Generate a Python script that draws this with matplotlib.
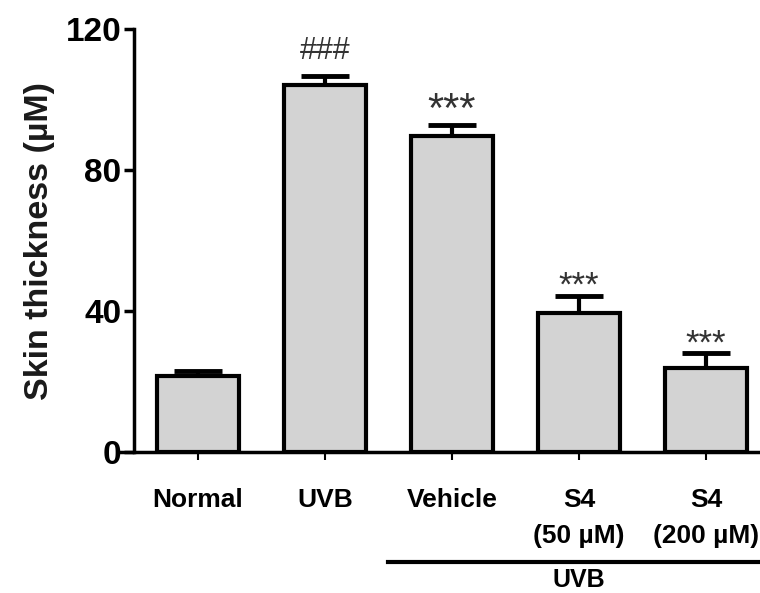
import numpy as np
import matplotlib
matplotlib.use("Agg")
import matplotlib.pyplot as plt
from matplotlib import transforms

groups = ["Normal", "UVB", "Vehicle", "S4\n(50 µM)", "S4\n(200 µM)"]
means = [21.5, 104.2, 89.7, 39.4, 23.8]
errs = [1.4, 2.6, 3.2, 4.9, 4.3]
marks = ["", "###", "***", "***", "***"]
mark_y = [0, 109.5, 91.0, 42.5, 25.8]
mark_size = [0, 22, 30, 25, 25]

plt.rcParams['font.family'] = ['Liberation Sans', 'DejaVu Sans']

def main():
    fig = plt.figure(figsize=(7.6, 5.93), dpi=100)
    ax = fig.add_axes([121 / 760, 1 - 452 / 593, 1 - 121 / 760, (452 - 29) / 593])

    x = np.arange(len(groups))
    ax.bar(x, means, width=0.65, color='#d3d3d3', edgecolor='black', linewidth=3, zorder=2)
    ax.errorbar(x, means, yerr=[np.zeros(len(errs)), errs], fmt='none', ecolor='black',
                elinewidth=3, capsize=17, capthick=3.5, zorder=1)

    for i, m in enumerate(marks):
        if m:
            ax.text(x[i], mark_y[i], m, ha='center', va='bottom', fontsize=mark_size[i],
                    color='#333333')

    ax.set_xlim(-0.606, 4.425)
    ax.set_ylim(0, 120)
    ax.spines['top'].set_visible(False)
    ax.spines['right'].set_visible(False)
    ax.spines['left'].set_position(('data', -0.504))
    ax.spines['left'].set_linewidth(2.5)
    ax.spines['bottom'].set_linewidth(2.5)

    ax.set_yticks([0, 40, 80, 120])
    ax.tick_params(axis='y', length=7, width=2.5, labelsize=24, pad=2)
    for lab in ax.get_yticklabels():
        lab.set_fontweight('bold')
    ax.set_xticks(x)
    ax.set_xticklabels(groups, fontsize=19, fontweight='bold', linespacing=1.6)
    ax.tick_params(axis='x', length=6, width=1.5, pad=20)
    ax.set_ylabel("Skin thickness (µM)", fontsize=24.5, fontweight='bold', color='#1a1a1a', labelpad=8)

    # UVB bracket under the last three groups
    trans = transforms.blended_transform_factory(ax.transData, ax.transAxes)
    ax.plot([1.5, 4.425], [-0.26, -0.26], color='black', lw=3, transform=trans, clip_on=False)
    ax.text(3, -0.274, "UVB", transform=trans, ha='center', va='top', fontsize=18, fontweight='bold')

    fig.savefig("out.png", dpi=100)

if __name__ == "__main__":
    main()
